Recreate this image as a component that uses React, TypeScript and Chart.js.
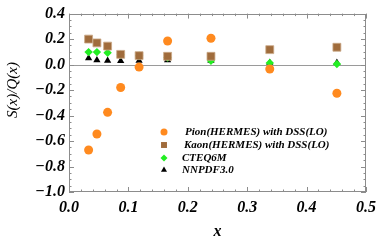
import React, { useEffect, useRef } from "react";
import { Chart, registerables } from "chart.js";
import { drawPoint } from "chart.js/helpers";

Chart.register(...registerables);

const xBins = [0.033, 0.047, 0.065, 0.087, 0.118, 0.166, 0.239, 0.338, 0.451];
const pionValues = [-0.67, -0.545, -0.375, -0.18, -0.02, 0.185, 0.207, -0.035, -0.225];
const kaonValues = [0.2, 0.17, 0.145, 0.08, 0.07, 0.065, 0.065, 0.117, 0.136];
const cteqValues = [0.098, 0.098, 0.093, 0.078, 0.07, 0.055, 0.03, 0.013, 0.005];
const nnpdfValues = [0.05, 0.035, 0.03, 0.028, 0.03, 0.035, 0.03, 0.015, 0.015];
const seriesLabels = [
  "Pion(HERMES) with DSS(LO)",
  "Kaon(HERMES) with DSS(LO)",
  "CTEQ6M",
  "NNPDF3.0",
];
const xTitle = "x";
const yTitle = "S(x)/Q(x)";

const SERIF = "'Liberation Serif', 'DejaVu Serif', serif";

const fmt = (v: number) => {
  if (Math.abs(v) < 1e-9) return "0.0";
  return (v < 0 ? "\u2212" : "") + Math.abs(v).toFixed(1);
};

const framePlugin = {
  id: "framePlugin",
  beforeDatasetsDraw(chart: any) {
    const { ctx, chartArea: a, scales } = chart;
    const y0 = scales.y.getPixelForValue(0);
    ctx.save();
    ctx.strokeStyle = "#9a9a9a";
    ctx.lineWidth = 1;
    ctx.beginPath();
    ctx.moveTo(a.left, Math.round(y0) + 0.5);
    ctx.lineTo(a.right, Math.round(y0) + 0.5);
    ctx.stroke();
    ctx.restore();
  },
  afterDraw(chart: any) {
    const { ctx, chartArea: a, scales } = chart;
    ctx.save();
    ctx.strokeStyle = "#8c8c8c";
    ctx.lineWidth = 1;
    ctx.strokeRect(Math.round(a.left) + 0.5, Math.round(a.top) + 0.5, Math.round(a.right - a.left) - 1, Math.round(a.bottom - a.top) - 1);
    ctx.beginPath();
    for (let i = 0; i <= 25; i++) {
      const v = i * 0.02;
      const px = Math.round(scales.x.getPixelForValue(v)) + 0.5;
      const len = i % 5 === 0 ? 5 : 2.5;
      ctx.moveTo(px, a.bottom);
      ctx.lineTo(px, a.bottom - len);
      ctx.moveTo(px, a.top);
      ctx.lineTo(px, a.top + len);
    }
    for (let i = 0; i <= 28; i++) {
      const v = -1 + i * 0.05;
      const py = Math.round(scales.y.getPixelForValue(v)) + 0.5;
      const len = i % 4 === 0 ? 5 : 2.5;
      ctx.moveTo(a.left, py);
      ctx.lineTo(a.left + len, py);
      ctx.moveTo(a.right, py);
      ctx.lineTo(a.right - len, py);
    }
    ctx.stroke();

    ctx.fillStyle = "#000";
    ctx.font = `bold italic 16px ${SERIF}`;
    ctx.textAlign = "center";
    ctx.textBaseline = "middle";
    ctx.fillText(xTitle, (a.left + a.right) / 2, 232);
    ctx.save();
    ctx.translate(13, 90);
    ctx.rotate(-Math.PI / 2);
    ctx.font = `italic 15px ${SERIF}`;
    ctx.fillText(yTitle, 0, 0);
    ctx.restore();

    const ds = chart.data.datasets;
    const mx = a.left + 95;
    const rows = [132, 145, 158, 170];
    const textX = [mx + 21, mx + 20, mx + 18, mx + 18];
    ctx.font = `bold italic 11px ${SERIF}`;
    ctx.textAlign = "left";
    ds.forEach((d: any, i: number) => {
      const y = rows[i];
      ctx.fillStyle = d.backgroundColor;
      ctx.strokeStyle = d.backgroundColor;
      drawPoint(ctx, { pointStyle: d.pointStyle, radius: d.legendRadius, borderWidth: 0, rotation: 0 }, mx, y);
      ctx.fillStyle = "#000";
      ctx.fillText(d.label, textX[i], y);
    });
    ctx.restore();
  },
};

export default function App() {
  const ref = useRef<HTMLCanvasElement | null>(null);
  useEffect(() => {
    document.body.style.margin = "0";
    const mk = (vals: number[]) => xBins.map((x, i) => ({ x, y: vals[i] }));
    const chart = new Chart(ref.current as HTMLCanvasElement, {
      type: "scatter",
      data: {
        datasets: [
          { label: seriesLabels[0], data: mk(pionValues), pointStyle: "circle", pointRadius: 4.5, backgroundColor: "#ff8a1f", borderColor: "#ff8a1f", borderWidth: 0, legendRadius: 3.5 } as any,
          { label: seriesLabels[1], data: mk(kaonValues), pointStyle: "rect", pointRadius: 5.6, backgroundColor: "#a06c3c", borderColor: "#c9a886", borderWidth: 0.8, legendRadius: 4.2 } as any,
          { label: seriesLabels[2], data: mk(cteqValues), pointStyle: "rectRot", pointRadius: 4.2, backgroundColor: "#22ee22", borderColor: "#22ee22", borderWidth: 0, legendRadius: 3.5 } as any,
          { label: seriesLabels[3], data: mk(nnpdfValues), pointStyle: "triangle", pointRadius: 4.2, backgroundColor: "#000000", borderColor: "#000000", borderWidth: 0, legendRadius: 3.5 } as any,
        ],
      },
      options: {
        animation: false,
        responsive: false,
        maintainAspectRatio: false,
        layout: { padding: { top: 9, right: 26, left: 0, bottom: 0 } },
        plugins: { legend: { display: false }, tooltip: { enabled: false } },
        scales: {
          x: {
            type: "linear",
            min: 0,
            max: 0.5,
            grid: { display: false, drawTicks: false },
            border: { display: false },
            ticks: {
              stepSize: 0.1,
              padding: 6,
              color: "#000",
              font: { family: SERIF, size: 16, style: "italic", weight: "bold" },
              callback: (v: any) => fmt(Number(v)),
            },
            afterFit: (s: any) => { s.height = 53; },
          },
          y: {
            type: "linear",
            min: -1,
            max: 0.4,
            grid: { display: false, drawTicks: false },
            border: { display: false },
            ticks: {
              stepSize: 0.2,
              padding: 4,
              color: "#000",
              font: { family: SERIF, size: 16, style: "italic", weight: "bold" },
              callback: (v: any) => fmt(Number(v)),
            },
            afterFit: (s: any) => { s.width = 69; },
          },
        },
      },
      plugins: [framePlugin],
    });
    return () => chart.destroy();
  }, []);
  return <canvas ref={ref} width={392} height={245} style={{ display: "block" }} />;
}
